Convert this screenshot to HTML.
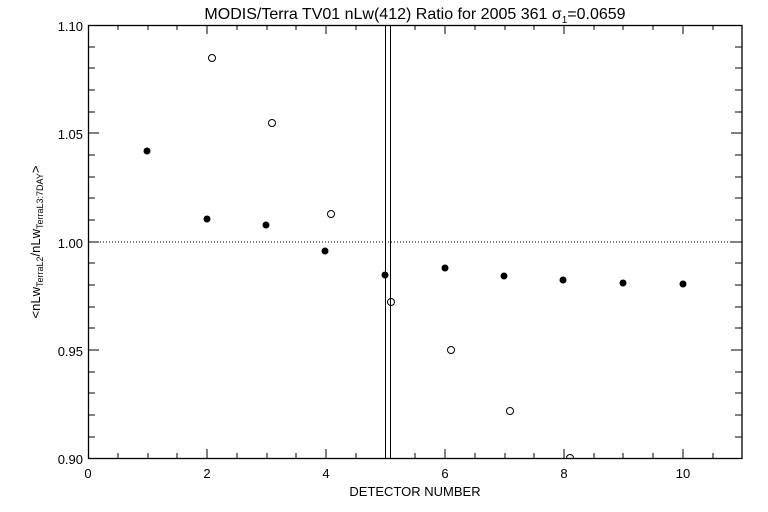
<!DOCTYPE html>
<html><head><style>body{margin:0;background:#fff}svg{display:block}text{font-family:"Liberation Sans",sans-serif;fill:#000}</style></head><body>
<svg width="768" height="512" xmlns="http://www.w3.org/2000/svg">
<rect width="768" height="512" fill="#fff"/>
<text x="415" y="19" font-size="16" text-anchor="middle">MODIS/Terra TV01 nLw(412) Ratio for 2005 361 σ<tspan font-size="10" dy="4">1</tspan><tspan dy="-4">=0.0659</tspan></text>
<rect x="88.5" y="25.5" width="653.5" height="433" fill="none" stroke="#000" stroke-width="1.3"/>
<g stroke="#000" stroke-width="1">
<path d="M118,458v-5M148,458v-5M177,458v-5M207,458v-9M237,458v-5M267,458v-5M296,458v-5M326,458v-9M356,458v-5M415,458v-5M445,458v-9M475,458v-5M505,458v-5M534,458v-5M564,458v-9M594,458v-5M623,458v-5M653,458v-5M683,458v-9M713,458v-5
M118,25v5M148,25v5M177,25v5M207,25v9M237,25v5M267,25v5M296,25v5M326,25v9M356,25v5M415,25v5M445,25v9M475,25v5M505,25v5M534,25v5M564,25v9M594,25v5M623,25v5M653,25v5M683,25v9M713,25v5
M88,47h7M88,68h7M88,90h7M88,112h7M88,133h11M88,155h7M88,177h7M88,198h7M88,220h7M88,242h11M88,263h7M88,285h7M88,307h7M88,328h7M88,350h11M88,372h7M88,393h7M88,415h7M88,437h7
M742,47h-7M742,68h-7M742,90h-7M742,112h-7M742,133h-11M742,155h-7M742,177h-7M742,198h-7M742,220h-7M742,242h-11M742,263h-7M742,285h-7M742,307h-7M742,328h-7M742,350h-11M742,372h-7M742,393h-7M742,415h-7M742,437h-7"/>
<path d="M385.5,25V458M390.5,25V458"/>
<path d="M88,242H742" stroke-dasharray="1,2"/>
</g>
<g font-size="13" text-anchor="end">
<text x="83" y="31">1.10</text><text x="83" y="139">1.05</text><text x="83" y="248">1.00</text><text x="83" y="356">0.95</text><text x="83" y="464">0.90</text>
</g>
<g font-size="13" text-anchor="middle">
<text x="88" y="478">0</text><text x="207" y="478">2</text><text x="326" y="478">4</text><text x="445" y="478">6</text><text x="564" y="478">8</text><text x="683" y="478">10</text>
</g>
<text x="415" y="496" font-size="13" text-anchor="middle">DETECTOR NUMBER</text>
<text transform="translate(40,242) rotate(-90)" font-size="13" text-anchor="middle">&lt;nLw<tspan font-size="9" dy="3">TerraL2</tspan><tspan dy="-3">/nLw</tspan><tspan font-size="9" dy="3">TerraL3:7DAY</tspan><tspan dy="-3">&gt;</tspan></text>
<g fill="#000">
<circle cx="147" cy="151" r="3.5"/><circle cx="207" cy="219" r="3.5"/><circle cx="266" cy="225" r="3.5"/><circle cx="325" cy="251" r="3.5"/><circle cx="385" cy="275" r="3.5"/><circle cx="445" cy="268" r="3.5"/><circle cx="504" cy="276" r="3.5"/><circle cx="563" cy="280" r="3.5"/><circle cx="623" cy="283" r="3.5"/><circle cx="683" cy="284" r="3.5"/>
</g>
<g fill="none" stroke="#000" stroke-width="1">
<circle cx="212" cy="58" r="3.5"/><circle cx="272" cy="123" r="3.5"/><circle cx="331" cy="214" r="3.5"/><circle cx="391" cy="302" r="3.5"/><circle cx="451" cy="350" r="3.5"/><circle cx="510" cy="411" r="3.5"/><path d="M566.5,458a3.5,3.5 0 0 1 7,0"/>
</g>
</svg>
</body></html>
